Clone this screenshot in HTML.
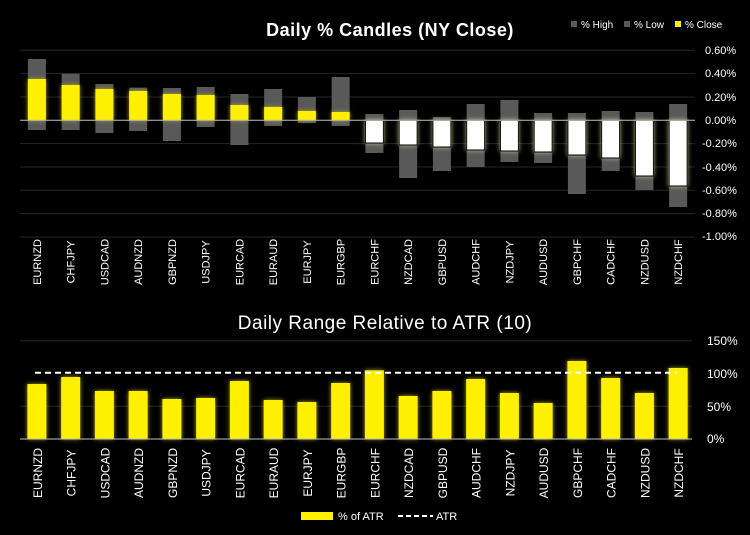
<!DOCTYPE html>
<html><head><meta charset="utf-8"><style>
html,body{margin:0;padding:0;background:#000;}
svg{display:block;font-family:"Liberation Sans",sans-serif;}
</style></head><body>
<svg width="750" height="535" viewBox="0 0 750 535" xmlns="http://www.w3.org/2000/svg">
<defs>
<filter id="glow" x="-50%" y="-50%" width="200%" height="200%">
<feGaussianBlur in="SourceAlpha" stdDeviation="2.5" result="b"/>
<feFlood flood-color="#d8d49a" flood-opacity="0.8"/>
<feComposite in2="b" operator="in" result="g"/>
<feMerge><feMergeNode in="g"/><feMergeNode in="SourceGraphic"/></feMerge>
</filter>
<filter id="glowy" x="-50%" y="-50%" width="200%" height="200%">
<feGaussianBlur in="SourceAlpha" stdDeviation="2.5" result="b"/>
<feFlood flood-color="#b8b020" flood-opacity="0.9"/>
<feComposite in2="b" operator="in" result="g"/>
<feMerge><feMergeNode in="g"/><feMergeNode in="SourceGraphic"/></feMerge>
</filter>
</defs>
<rect width="750" height="535" fill="#000"/>
<text x="390" y="36" fill="#fff" font-size="18" font-weight="bold" text-anchor="middle" letter-spacing="0.5">Daily % Candles (NY Close)</text>
<g font-size="10" fill="#fff">
<rect x="571" y="21" width="6" height="6" fill="#595959"/><text x="581" y="28">% High</text>
<rect x="624" y="21" width="6" height="6" fill="#595959"/><text x="634" y="28">% Low</text>
<rect x="675" y="21" width="6" height="6" fill="#ffef00"/><text x="685" y="28">% Close</text>
</g>
<g stroke="#262626" stroke-width="1">
<line x1="20" x2="695" y1="50.3" y2="50.3"/><line x1="20" x2="695" y1="73.6" y2="73.6"/><line x1="20" x2="695" y1="97" y2="97"/>
<line x1="20" x2="695" y1="143.6" y2="143.6"/><line x1="20" x2="695" y1="167" y2="167"/><line x1="20" x2="695" y1="190.3" y2="190.3"/><line x1="20" x2="695" y1="213.6" y2="213.6"/><line x1="20" x2="695" y1="237" y2="237"/>
</g>
<g font-size="11" fill="#fff">
<text x="705" y="54">0.60%</text><text x="705" y="77">0.40%</text><text x="705" y="101">0.20%</text><text x="705" y="124">0.00%</text>
<text x="702" y="147">-0.20%</text><text x="702" y="171">-0.40%</text><text x="702" y="194">-0.60%</text><text x="702" y="217">-0.80%</text><text x="702" y="240">-1.00%</text>
</g>
<g fill="#595959">
<rect x="27.9" y="59" width="18" height="71"/>
<rect x="61.65" y="73.7" width="18" height="56.3"/>
<rect x="95.4" y="84" width="18" height="49"/>
<rect x="129.15" y="87.7" width="18" height="43.3"/>
<rect x="162.9" y="88" width="18" height="53"/>
<rect x="196.65" y="87" width="18" height="40"/>
<rect x="230.4" y="94" width="18" height="51"/>
<rect x="264.15" y="89" width="18" height="37"/>
<rect x="297.9" y="97" width="18" height="26"/>
<rect x="331.65" y="77" width="18" height="49"/>
<rect x="365.4" y="114" width="18" height="39"/>
<rect x="399.15" y="110" width="18" height="68"/>
<rect x="432.9" y="117" width="18" height="54"/>
<rect x="466.65" y="104" width="18" height="63"/>
<rect x="500.4" y="100" width="18" height="62"/>
<rect x="534.15" y="113" width="18" height="50"/>
<rect x="567.9" y="113" width="18" height="81"/>
<rect x="601.65" y="111" width="18" height="60"/>
<rect x="635.4" y="112" width="18" height="78"/>
<rect x="669.15" y="104" width="18" height="103"/>
</g>
<g fill="#ffef00" filter="url(#glowy)">
<rect x="27.9" y="79" width="18" height="41.3"/>
<rect x="61.65" y="85" width="18" height="35.3"/>
<rect x="95.4" y="89" width="18" height="31.3"/>
<rect x="129.15" y="91" width="18" height="29.3"/>
<rect x="162.9" y="94" width="18" height="26.3"/>
<rect x="196.65" y="95" width="18" height="25.3"/>
<rect x="230.4" y="105" width="18" height="15.3"/>
<rect x="264.15" y="107" width="18" height="13.3"/>
<rect x="297.9" y="111" width="18" height="9.3"/>
<rect x="331.65" y="112" width="18" height="8.3"/>
</g>
<g fill="#fff" stroke="#000" filter="url(#glow)">
<rect x="365.4" y="120.3" width="18" height="22.7"/>
<rect x="399.15" y="120.3" width="18" height="24.7"/>
<rect x="432.9" y="120.3" width="18" height="26.7"/>
<rect x="466.65" y="120.3" width="18" height="29.7"/>
<rect x="500.4" y="120.3" width="18" height="30.7"/>
<rect x="534.15" y="120.3" width="18" height="31.7"/>
<rect x="567.9" y="120.3" width="18" height="34.7"/>
<rect x="601.65" y="120.3" width="18" height="37.7"/>
<rect x="635.4" y="120.3" width="18" height="55.7"/>
<rect x="669.15" y="120.3" width="18" height="65.7"/>
</g>
<line x1="20" x2="695" y1="120.3" y2="120.3" stroke="#bfbfbf" stroke-width="1"/>
<g font-size="11" fill="#fff" text-anchor="middle">
<text transform="translate(40.9,262) rotate(-90)">EURNZD</text>
<text transform="translate(74.65,262) rotate(-90)">CHFJPY</text>
<text transform="translate(108.4,262) rotate(-90)">USDCAD</text>
<text transform="translate(142.15,262) rotate(-90)">AUDNZD</text>
<text transform="translate(175.9,262) rotate(-90)">GBPNZD</text>
<text transform="translate(209.65,262) rotate(-90)">USDJPY</text>
<text transform="translate(243.4,262) rotate(-90)">EURCAD</text>
<text transform="translate(277.15,262) rotate(-90)">EURAUD</text>
<text transform="translate(310.9,262) rotate(-90)">EURJPY</text>
<text transform="translate(344.65,262) rotate(-90)">EURGBP</text>
<text transform="translate(378.4,262) rotate(-90)">EURCHF</text>
<text transform="translate(412.15,262) rotate(-90)">NZDCAD</text>
<text transform="translate(445.9,262) rotate(-90)">GBPUSD</text>
<text transform="translate(479.65,262) rotate(-90)">AUDCHF</text>
<text transform="translate(513.4,262) rotate(-90)">NZDJPY</text>
<text transform="translate(547.15,262) rotate(-90)">AUDUSD</text>
<text transform="translate(580.9,262) rotate(-90)">GBPCHF</text>
<text transform="translate(614.65,262) rotate(-90)">CADCHF</text>
<text transform="translate(648.4,262) rotate(-90)">NZDUSD</text>
<text transform="translate(682.15,262) rotate(-90)">NZDCHF</text>
</g>
<text x="385" y="329" fill="#fff" font-size="19" text-anchor="middle" letter-spacing="0.5">Daily Range Relative to ATR (10)</text>
<g stroke="#262626"><line x1="20" x2="692" y1="340.7" y2="340.7"/><line x1="20" x2="692" y1="406.3" y2="406.3"/></g>
<g font-size="12" fill="#fff">
<text x="707" y="345">150%</text><text x="707" y="378">100%</text><text x="707" y="411">50%</text><text x="707" y="443">0%</text>
</g>
<g fill="#ffef00" filter="url(#glowy)">
<rect x="27.4" y="384" width="19" height="55"/>
<rect x="61.15" y="377" width="19" height="62"/>
<rect x="94.9" y="391" width="19" height="48"/>
<rect x="128.65" y="391" width="19" height="48"/>
<rect x="162.4" y="399" width="19" height="40"/>
<rect x="196.15" y="398" width="19" height="41"/>
<rect x="229.9" y="381" width="19" height="58"/>
<rect x="263.65" y="400" width="19" height="39"/>
<rect x="297.4" y="402" width="19" height="37"/>
<rect x="331.15" y="383" width="19" height="56"/>
<rect x="364.9" y="370.3" width="19" height="68.7"/>
<rect x="398.65" y="396" width="19" height="43"/>
<rect x="432.4" y="391" width="19" height="48"/>
<rect x="466.15" y="379" width="19" height="60"/>
<rect x="499.9" y="393" width="19" height="46"/>
<rect x="533.65" y="403" width="19" height="36"/>
<rect x="567.4" y="361" width="19" height="78"/>
<rect x="601.15" y="378" width="19" height="61"/>
<rect x="634.9" y="393" width="19" height="46"/>
<rect x="668.65" y="368" width="19" height="71"/>
</g>
<line x1="20" x2="692" y1="439" y2="439" stroke="#bfbfbf"/>
<line x1="35" x2="677" y1="372.7" y2="372.7" stroke="#fff" stroke-width="2" stroke-dasharray="6,4"/>
<g font-size="12" fill="#fff" text-anchor="middle">
<text transform="translate(41.9,473) rotate(-90)">EURNZD</text>
<text transform="translate(75.65,473) rotate(-90)">CHFJPY</text>
<text transform="translate(109.4,473) rotate(-90)">USDCAD</text>
<text transform="translate(143.15,473) rotate(-90)">AUDNZD</text>
<text transform="translate(176.9,473) rotate(-90)">GBPNZD</text>
<text transform="translate(210.65,473) rotate(-90)">USDJPY</text>
<text transform="translate(244.4,473) rotate(-90)">EURCAD</text>
<text transform="translate(278.15,473) rotate(-90)">EURAUD</text>
<text transform="translate(311.9,473) rotate(-90)">EURJPY</text>
<text transform="translate(345.65,473) rotate(-90)">EURGBP</text>
<text transform="translate(379.4,473) rotate(-90)">EURCHF</text>
<text transform="translate(413.15,473) rotate(-90)">NZDCAD</text>
<text transform="translate(446.9,473) rotate(-90)">GBPUSD</text>
<text transform="translate(480.65,473) rotate(-90)">AUDCHF</text>
<text transform="translate(514.4,473) rotate(-90)">NZDJPY</text>
<text transform="translate(548.15,473) rotate(-90)">AUDUSD</text>
<text transform="translate(581.9,473) rotate(-90)">GBPCHF</text>
<text transform="translate(615.65,473) rotate(-90)">CADCHF</text>
<text transform="translate(649.4,473) rotate(-90)">NZDUSD</text>
<text transform="translate(683.15,473) rotate(-90)">NZDCHF</text>
</g>
<rect x="301" y="512" width="32" height="8" fill="#ffef00"/>
<text x="338" y="520" font-size="11" fill="#fff">% of ATR</text>
<line x1="398" x2="433" y1="516" y2="516" stroke="#fff" stroke-width="2" stroke-dasharray="5,3"/>
<text x="436" y="520" font-size="11" fill="#fff">ATR</text>
</svg>
</body></html>
